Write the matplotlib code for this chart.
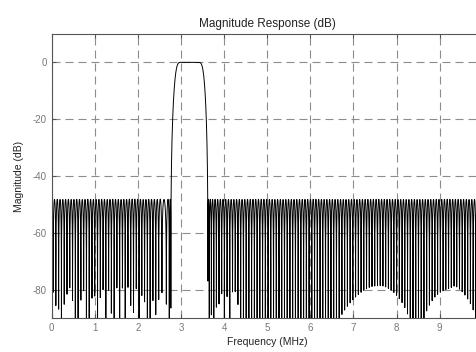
import numpy as np
import matplotlib
matplotlib.use("Agg")
import matplotlib.pyplot as plt

# ---- data ----
sample_rate_mhz = 20.0                       # Nyquist at 10 MHz
band_edges_mhz = [2.77, 2.98, 3.42, 3.62]    # stop1 end, pass start, pass end, stop2 start
band_gains = [0.0, 1.0, 0.0]                 # stop, pass, stop
stopband_level_db = -47.5                    # height of the stopband ripple peaks
num_taps = 317                               # ~10 stopband lobes per MHz
num_points = 8192
x_ticks = [0, 1, 2, 3, 4, 5, 6, 7, 8, 9]
y_ticks = [0, -20, -40, -60, -80]

# ---- equiripple-like linear-phase FIR design (Lawson iteration) ----
L = (num_taps - 1) // 2
nyq = sample_rate_mhz / 2
bands = [(0.0, band_edges_mhz[0]), (band_edges_mhz[1], band_edges_mhz[2]),
         (band_edges_mhz[3], nyq)]
fg, dg, bid = [], [], []
for i, ((lo, hi), g) in enumerate(zip(bands, band_gains)):
    n = int(np.ceil((hi - lo) / nyq * 12 * L)) + 2
    fg.append(np.linspace(lo, hi, n)); dg.append(np.full(n, g)); bid.append(np.full(n, i))
fg = np.concatenate(fg); dg = np.concatenate(dg); bid = np.concatenate(bid)
k = np.arange(L + 1)
C = np.cos(np.outer(2 * np.pi * fg / sample_rate_mhz, k))


def design(pass_weight, iters):
    wg = np.where(bid == 1, pass_weight, 1.0)
    lw = np.ones_like(fg) / fg.size
    for _ in range(iters):
        s = np.sqrt(lw) * wg
        a, *_ = np.linalg.lstsq(C * s[:, None], dg * s, rcond=None)
        err = np.abs(wg * (C @ a - dg))
        lw = lw * err
        lw /= lw.sum()
    ds = 20 * np.log10(np.max(np.abs((C @ a)[dg == 0])))
    return a, ds


lo_w, hi_w = 1.0, 2000.0
for _ in range(7):
    mid = np.sqrt(lo_w * hi_w)
    _, ds = design(mid, 60)
    if ds < stopband_level_db:
        lo_w = mid
    else:
        hi_w = mid
coef, _ = design(np.sqrt(lo_w * hi_w), 200)

freqs = np.linspace(0, nyq, num_points, endpoint=False)
amp = np.cos(np.outer(2 * np.pi * freqs / sample_rate_mhz, k)) @ coef
mag_db = 20 * np.log10(np.maximum(np.abs(amp), 1e-12))

# ---- plot ----
plt.rcParams['font.family'] = ['Liberation Sans', 'DejaVu Sans']
plt.rcParams['axes.unicode_minus'] = False
fig = plt.figure(figsize=(4.76, 3.52), dpi=100)
ax = fig.add_axes([0.1086, 0.0966, 0.9055, 0.807])
ax.plot(freqs, mag_db, color='black', lw=0.7)
ax.set_xlim(0, 10)
ax.set_ylim(-90, 10)
ax.set_xticks(x_ticks)
ax.set_yticks(y_ticks)
ax.grid(True, color='#8c8c8c', linestyle=(0, (7.2, 4.5)), lw=0.8)
ax.tick_params(direction='in', length=3, colors='#555555', labelsize=7,
               labelcolor='#777777', top=True, right=True)
for sp in ax.spines.values():
    sp.set_color('#555555')
    sp.set_linewidth(0.8)
ax.set_title('Magnitude Response (dB)', fontsize=8.5, color='#222222', pad=5)
ax.set_xlabel('Frequency (MHz)', fontsize=7.5, color='#222222', labelpad=3)
ax.set_ylabel('Magnitude (dB)', fontsize=7.5, color='#222222', labelpad=6)
fig.savefig('out.png', dpi=100)
